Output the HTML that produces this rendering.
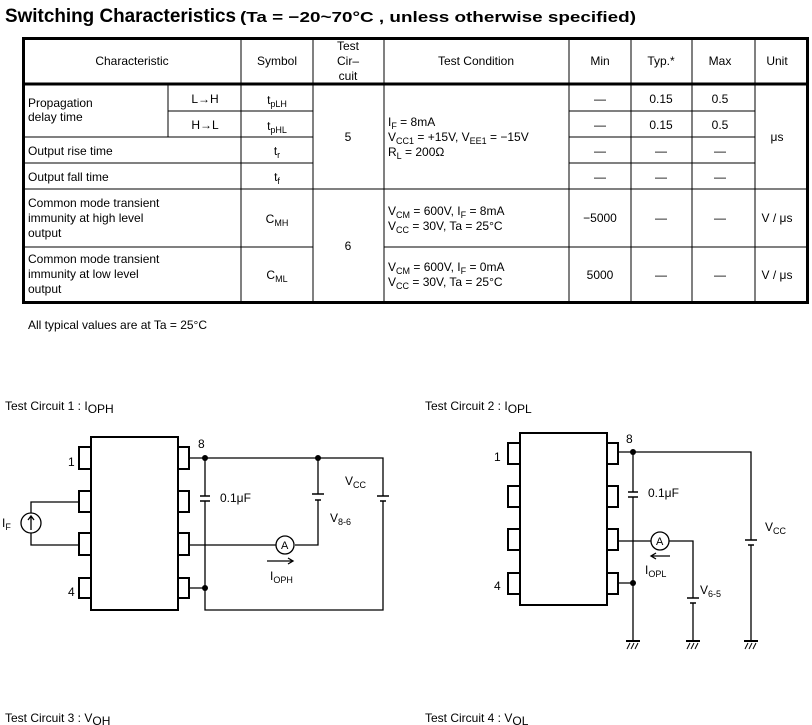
<!DOCTYPE html>
<html><head><meta charset="utf-8"><style>
body{margin:0;background:#fff}
svg{display:block}
text{font-family:"Liberation Sans",Arial,sans-serif;font-size:12px;fill:#000}
.s{font-size:9px}
</style></head><body>
<svg width="812" height="725" viewBox="0 0 812 725" xmlns="http://www.w3.org/2000/svg">
<text x="5" y="22" style="font-size:19px;font-weight:bold" textLength="231" lengthAdjust="spacingAndGlyphs">Switching Characteristics</text>
<text x="240" y="22" style="font-size:15px;font-weight:bold" textLength="396" lengthAdjust="spacingAndGlyphs">(Ta = −20~70°C , unless otherwise specified)</text>

<g stroke="#000" fill="none">
<rect x="23.5" y="38.5" width="784" height="264" stroke-width="3"/>
<line x1="23" y1="84" x2="808" y2="84" stroke-width="3"/>
<g stroke-width="1">
<line x1="241" y1="38" x2="241" y2="302"/>
<line x1="313" y1="38" x2="313" y2="302"/>
<line x1="384" y1="38" x2="384" y2="302"/>
<line x1="569" y1="38" x2="569" y2="302"/>
<line x1="631" y1="38" x2="631" y2="302"/>
<line x1="692" y1="38" x2="692" y2="302"/>
<line x1="755" y1="38" x2="755" y2="302"/>
<line x1="168" y1="85" x2="168" y2="137"/>
<line x1="168" y1="111" x2="313" y2="111"/>
<line x1="569" y1="111" x2="755" y2="111"/>
<line x1="23" y1="137" x2="313" y2="137"/>
<line x1="569" y1="137" x2="755" y2="137"/>
<line x1="23" y1="163" x2="313" y2="163"/>
<line x1="569" y1="163" x2="755" y2="163"/>
<line x1="23" y1="189" x2="808" y2="189"/>
<line x1="23" y1="247" x2="313" y2="247"/>
<line x1="384" y1="247" x2="808" y2="247"/>
</g></g>
<g text-anchor="middle">
<text x="132" y="65">Characteristic</text>
<text x="277" y="65">Symbol</text>
<text x="348" y="50">Test</text><text x="348" y="65">Cir–</text><text x="348" y="80">cuit</text>
<text x="476" y="65">Test Condition</text>
<text x="600" y="65">Min</text><text x="661" y="65">Typ.*</text><text x="720" y="65">Max</text><text x="777" y="65">Unit</text>
<text x="205" y="103">L→H</text><text x="205" y="129">H→L</text>
<text x="277" y="104">t<tspan class="s" dy="3">pLH</tspan></text>
<text x="277" y="130">t<tspan class="s" dy="3">pHL</tspan></text>
<text x="277" y="155">t<tspan class="s" dy="3">r</tspan></text>
<text x="277" y="181">t<tspan class="s" dy="3">f</tspan></text>
<text x="277" y="223">C<tspan class="s" dy="3">MH</tspan></text>
<text x="277" y="279">C<tspan class="s" dy="3">ML</tspan></text>
<text x="348" y="141">5</text><text x="348" y="250">6</text>
<text x="600" y="103">—</text><text x="600" y="129">—</text><text x="600" y="155">—</text><text x="600" y="181">—</text>
<text x="661" y="103">0.15</text><text x="661" y="129">0.15</text><text x="661" y="155">—</text><text x="661" y="181">—</text>
<text x="720" y="103">0.5</text><text x="720" y="129">0.5</text><text x="720" y="155">—</text><text x="720" y="181">—</text>
<text x="777" y="141">μs</text>
<text x="600" y="222">−5000</text><text x="661" y="222">—</text><text x="720" y="222">—</text><text x="777" y="222">V / μs</text>
<text x="600" y="279">5000</text><text x="661" y="279">—</text><text x="720" y="279">—</text><text x="777" y="279">V / μs</text>
</g>
<text x="28" y="107">Propagation</text><text x="28" y="121">delay time</text>
<text x="28" y="155">Output rise time</text>
<text x="28" y="181">Output fall time</text>
<text x="28" y="207">Common mode transient</text><text x="28" y="222">immunity at high level</text><text x="28" y="237">output</text>
<text x="28" y="263">Common mode transient</text><text x="28" y="278">immunity at low level</text><text x="28" y="293">output</text>
<text x="388" y="126">I<tspan class="s" dy="3">F</tspan><tspan dy="-3"> = 8mA</tspan></text>
<text x="388" y="141">V<tspan class="s" dy="3">CC1</tspan><tspan dy="-3"> = +15V, V</tspan><tspan class="s" dy="3">EE1</tspan><tspan dy="-3"> = −15V</tspan></text>
<text x="388" y="156">R<tspan class="s" dy="3">L</tspan><tspan dy="-3"> = 200Ω</tspan></text>
<text x="388" y="215">V<tspan class="s" dy="3">CM</tspan><tspan dy="-3"> = 600V, I</tspan><tspan class="s" dy="3">F</tspan><tspan dy="-3"> = 8mA</tspan></text>
<text x="388" y="230">V<tspan class="s" dy="3">CC</tspan><tspan dy="-3"> = 30V, Ta = 25°C</tspan></text>
<text x="388" y="271">V<tspan class="s" dy="3">CM</tspan><tspan dy="-3"> = 600V, I</tspan><tspan class="s" dy="3">F</tspan><tspan dy="-3"> = 0mA</tspan></text>
<text x="388" y="286">V<tspan class="s" dy="3">CC</tspan><tspan dy="-3"> = 30V, Ta = 25°C</tspan></text>
<text x="28" y="329">All typical values are at Ta = 25°C</text>

<!-- Circuit 1 -->
<text x="5" y="410">Test Circuit 1 : I<tspan dy="3">OPH</tspan></text>
<g stroke="#000" fill="none" stroke-width="1.3">
<rect x="91" y="437" width="87" height="173" stroke-width="2"/>
<rect x="79" y="447" width="12" height="22" stroke-width="2"/><rect x="79" y="491" width="12" height="21" stroke-width="2"/>
<rect x="79" y="533" width="12" height="22" stroke-width="2"/><rect x="79" y="578" width="12" height="20" stroke-width="2"/>
<rect x="178" y="447" width="11" height="22" stroke-width="2"/><rect x="178" y="491" width="11" height="21" stroke-width="2"/>
<rect x="178" y="533" width="11" height="22" stroke-width="2"/><rect x="178" y="578" width="11" height="20" stroke-width="2"/>
<path d="M189 458H383V496M383 501V610H205V501M205 496V458M189 588H205M318 458V494M318 500V545H295M276 545H189"/>
<path d="M200 496H210M200 501H210M377 496H389M380 501H386M312 494H324M315 500H321" stroke-width="1.5"/>
<circle cx="285" cy="545" r="9"/>
<path d="M267 561H292M288 558L293 561L288 564"/>
<path d="M79 502H31V513M31 533V545H79"/>
<circle cx="31" cy="523" r="10"/>
<path d="M31 530V517M28 520L31 516L34 520"/>
</g>
<circle cx="205" cy="458" r="3"/><circle cx="318" cy="458" r="3"/><circle cx="205" cy="588" r="3"/>
<text x="281" y="549" style="font-size:11px">A</text>
<text x="68" y="466">1</text><text x="68" y="596">4</text><text x="198" y="448">8</text>
<text x="220" y="502">0.1μF</text>
<text x="345" y="485">V<tspan class="s" dy="3">CC</tspan></text>
<text x="330" y="522">V<tspan class="s" dy="3">8-6</tspan></text>
<text x="270" y="580">I<tspan class="s" dy="3">OPH</tspan></text>
<text x="2" y="527">I<tspan class="s" dy="3">F</tspan></text>

<!-- Circuit 2 -->
<text x="425" y="410">Test Circuit 2 : I<tspan dy="3">OPL</tspan></text>
<g stroke="#000" fill="none" stroke-width="1.3">
<rect x="520" y="433" width="87" height="172" stroke-width="2"/>
<rect x="508" y="443" width="12" height="21" stroke-width="2"/><rect x="508" y="486" width="12" height="21" stroke-width="2"/>
<rect x="508" y="529" width="12" height="21" stroke-width="2"/><rect x="508" y="573" width="12" height="21" stroke-width="2"/>
<rect x="607" y="443" width="11" height="21" stroke-width="2"/><rect x="607" y="486" width="11" height="21" stroke-width="2"/>
<rect x="607" y="529" width="11" height="21" stroke-width="2"/><rect x="607" y="573" width="11" height="21" stroke-width="2"/>
<path d="M618 452H751V540M751 545V641M633 452V492M633 497V641M618 583H633M618 541H651M669 541H693V598M693 603V641"/>
<path d="M628 492H638M628 497H638M745 540H757M748 545H754M687 598H699M690 603H696" stroke-width="1.5"/>
<circle cx="660" cy="541" r="9"/>
<path d="M670 556H652M656 553L651 556L656 559"/>
<path d="M626 641H640M686 641H700M744 641H758" stroke-width="2"/>
<path d="M627 649L630 643M631 649L634 643M635 649L638 643M687 649L690 643M691 649L694 643M695 649L698 643M745 649L748 643M749 649L752 643M753 649L756 643" stroke-width="1"/>
</g>
<circle cx="633" cy="452" r="3"/><circle cx="633" cy="583" r="3"/>
<text x="656" y="545" style="font-size:11px">A</text>
<text x="494" y="461">1</text><text x="494" y="590">4</text><text x="626" y="443">8</text>
<text x="648" y="497">0.1μF</text>
<text x="765" y="531">V<tspan class="s" dy="3">CC</tspan></text>
<text x="700" y="594">V<tspan class="s" dy="3">6-5</tspan></text>
<text x="645" y="574">I<tspan class="s" dy="3">OPL</tspan></text>

<text x="5" y="722">Test Circuit 3 : V<tspan dy="3">OH</tspan></text>
<text x="425" y="722">Test Circuit 4 : V<tspan dy="3">OL</tspan></text>
</svg>
</body></html>
